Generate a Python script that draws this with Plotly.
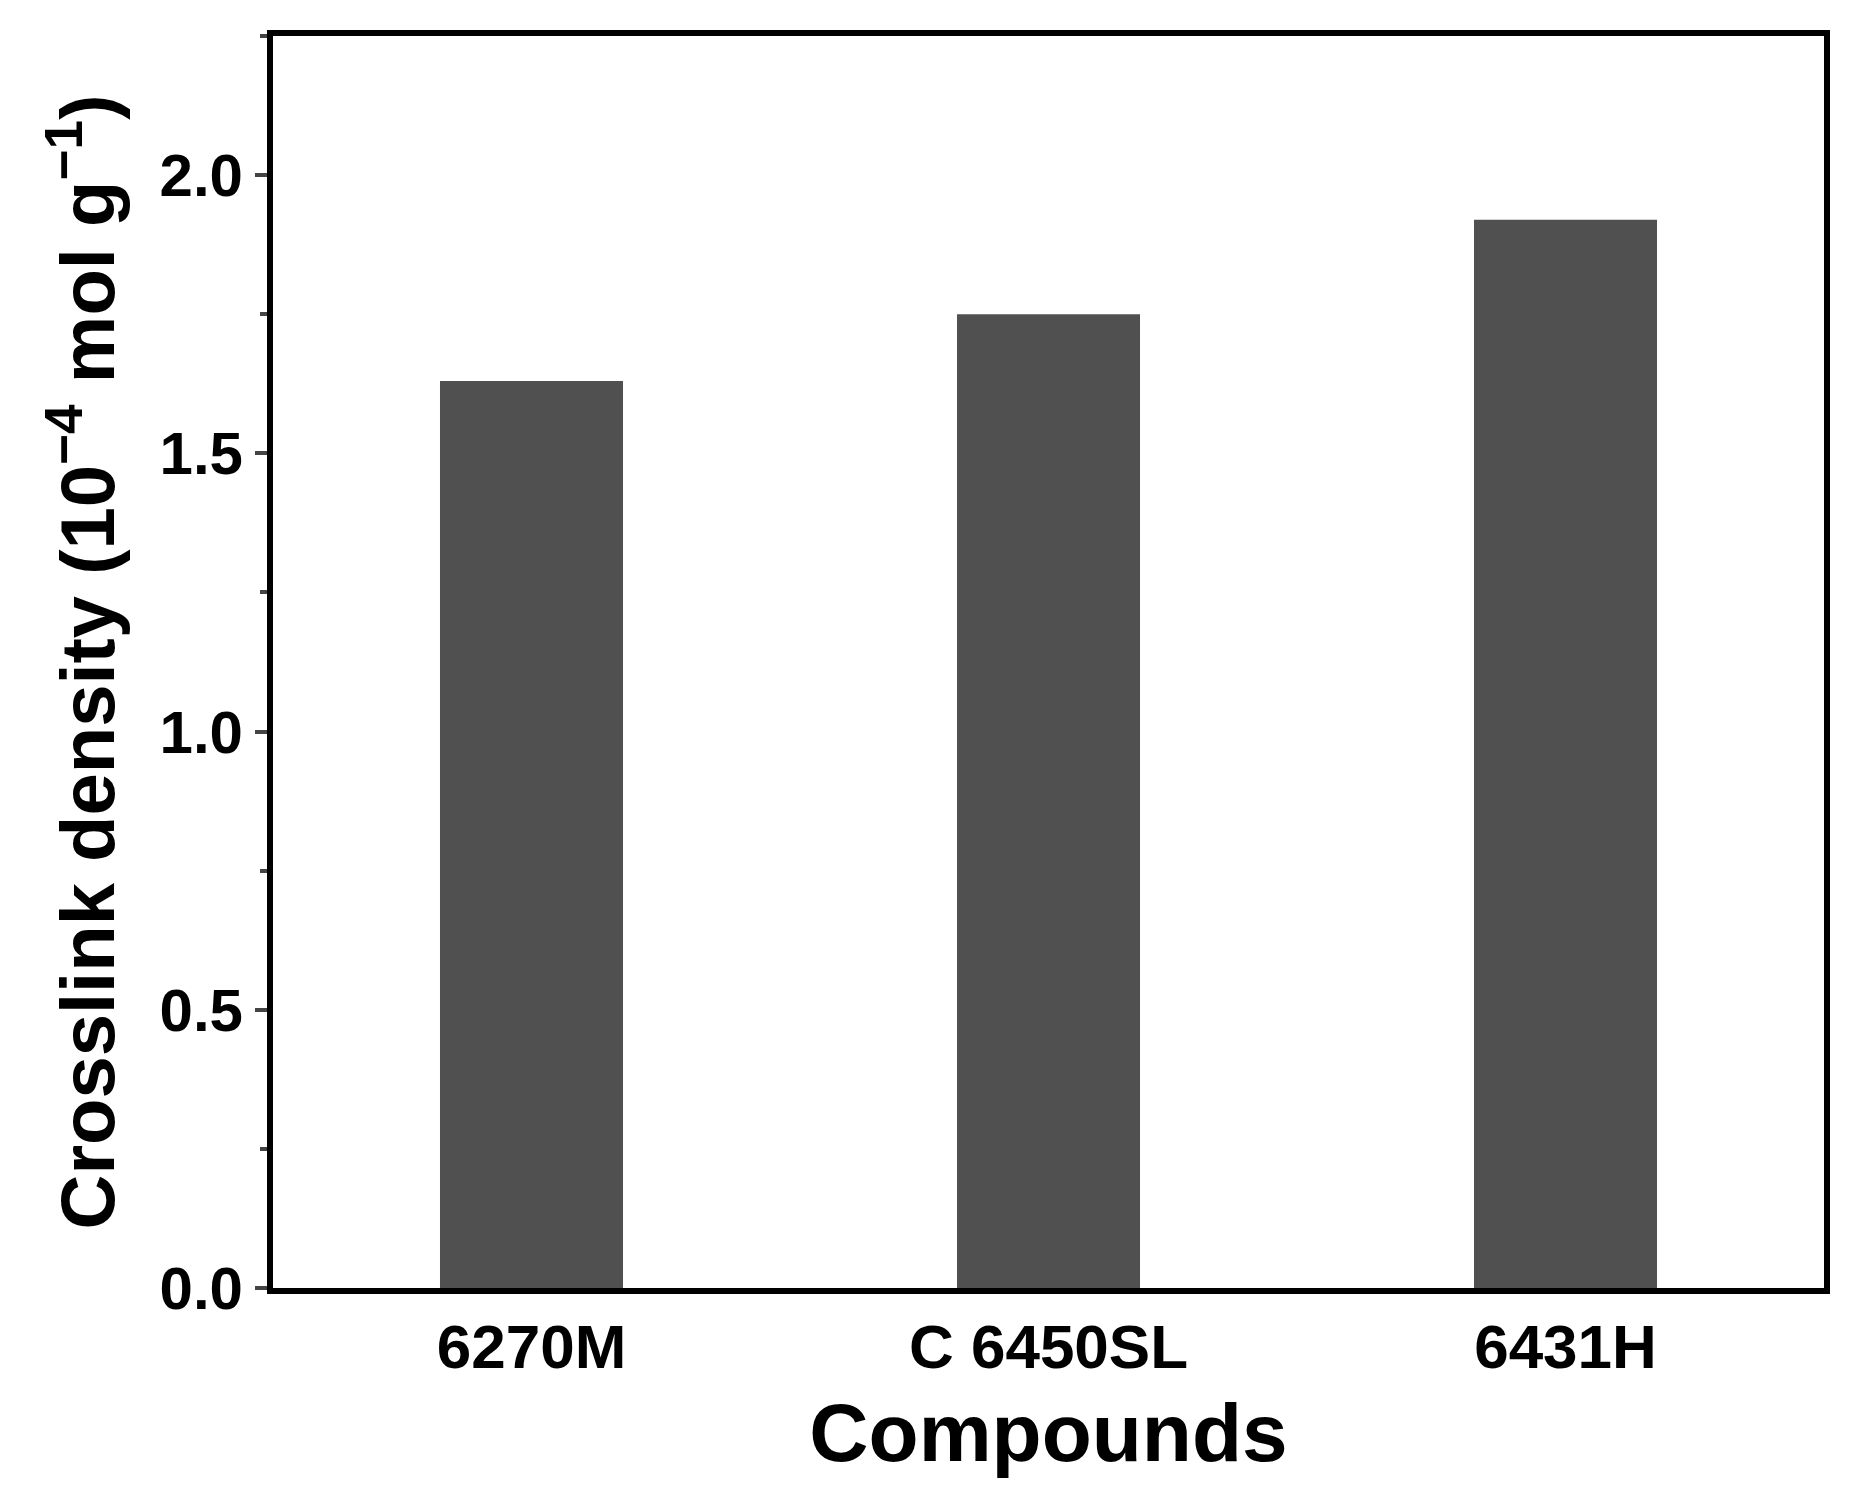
import plotly.graph_objects as go

compounds = ['6270M', 'C 6450SL', '6431H']
density = [1.63, 1.75, 1.92]

fig = go.Figure(go.Bar(x=compounds, y=density, width=0.354,
                       marker=dict(color='#505050', line=dict(width=0))))

font = dict(family='Liberation Sans, Arial', color='black', size=60)
fig.update_layout(
    width=1861, height=1505, plot_bgcolor='white', paper_bgcolor='white',
    margin=dict(l=265, r=45, t=28, b=225),
    showlegend=False, font=font,
)
fig.update_xaxes(range=[-0.5, 2.5], showline=True, linewidth=6, linecolor='black',
                 mirror=True, ticks='', tickfont=dict(size=62),
                 title=dict(text='<b>Compounds</b>', font=dict(size=82), standoff=25),
                 tickprefix='<b>', ticksuffix='</b>')
fig.update_yaxes(range=[0, 2.25], showline=True, linewidth=6, linecolor='black',
                 mirror=True, ticks='outside', ticklen=12, tickwidth=4, dtick=0.5,
                 tickformat='.1f', showgrid=False, zeroline=False,
                 tickprefix='<b>', ticksuffix='</b>', tickfont=dict(size=60),
                 minor=dict(ticks='outside', ticklen=7, tickwidth=4, dtick=0.25),
                 title=dict(text='<b>Crosslink density (10<sup>−4</sup> mol g<sup>−1</sup>)</b>',
                            font=dict(size=76), standoff=22))
fig.write_html("out.html")
